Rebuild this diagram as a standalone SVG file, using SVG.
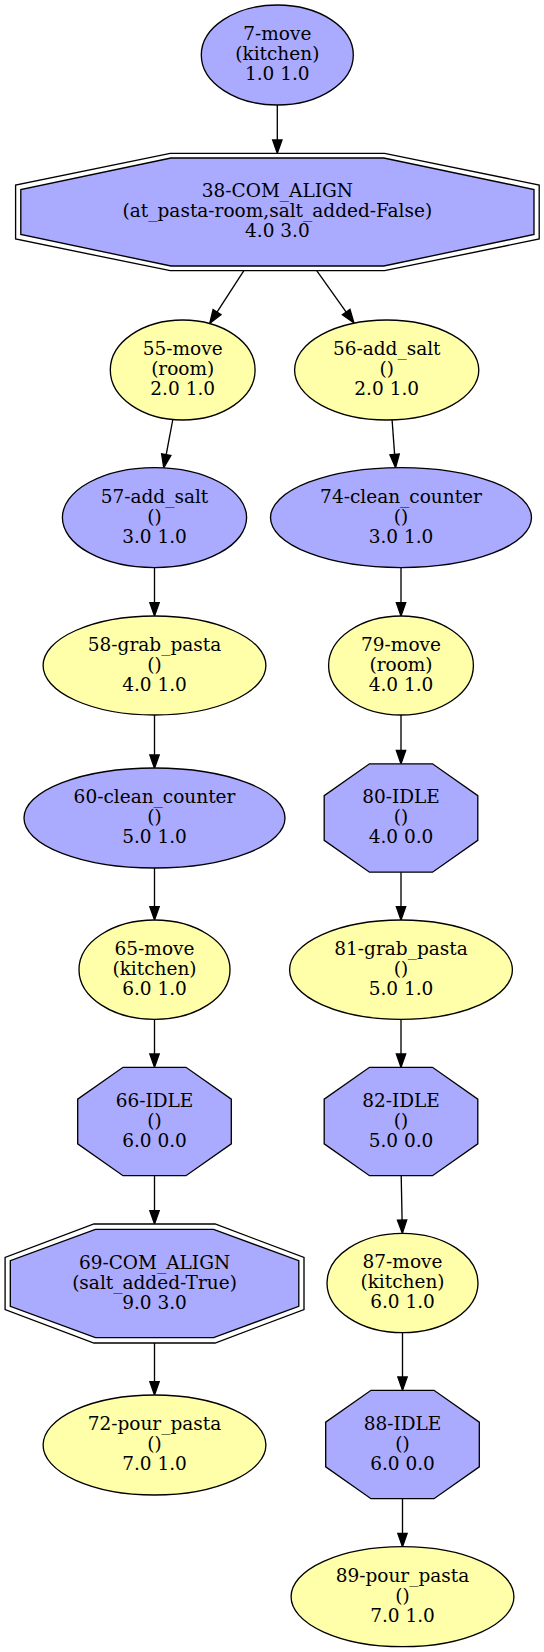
<svg xmlns="http://www.w3.org/2000/svg" width="544" height="1652" viewBox="0 0 544 1652">
<style>
.n ellipse, .n polygon { stroke: #000; stroke-width: 1.33; }
.b { fill: #aaaaff; }
.y { fill: #ffffaa; }
.o { fill: #ffffff; }
text { font-family: "DejaVu Serif", serif; font-size: 18.5px; text-anchor: middle; fill: #000; }
.e { stroke: #000; stroke-width: 1.33; fill: none; marker-end: url(#ah); }
</style>
<defs>
<marker id="ah" markerUnits="userSpaceOnUse" orient="auto" markerWidth="16" markerHeight="12" refX="0" refY="0" viewBox="-1 -6 16 12" overflow="visible">
<path d="M0,-4.67 L13.33,0 L0,4.67 z" fill="#000" stroke="#000" stroke-width="1.33"/>
</marker>
</defs>
<rect width="544" height="1652" fill="#fff"/>
<g id="edges">
<path class="e" d="M277.3,105 L277.3,140"/>
<path class="e" d="M243.9,270.7 L217,312.1"/>
<path class="e" d="M316.7,270.7 L346.2,312.1"/>
<path class="e" d="M172.8,419.5 L166.2,454.7"/>
<path class="e" d="M392.1,420 L394.6,454.4"/>
<path class="e" d="M154.5,567.5 L154.5,602.7"/>
<path class="e" d="M401,567.5 L401,602.7"/>
<path class="e" d="M154.5,715 L154.5,755"/>
<path class="e" d="M401,715 L401,750.5"/>
<path class="e" d="M154.5,868 L154.5,906.7"/>
<path class="e" d="M401,872.2 L401,906.7"/>
<path class="e" d="M154.5,1019.5 L154.5,1054"/>
<path class="e" d="M401,1019.5 L401,1054"/>
<path class="e" d="M154.5,1175.7 L154.5,1210.7"/>
<path class="e" d="M401.2,1175.7 L402.1,1220"/>
<path class="e" d="M154.5,1343 L154.5,1381.7"/>
<path class="e" d="M402.5,1332.7 L402.5,1377"/>
<path class="e" d="M402.5,1498.7 L402.5,1533.4"/>
</g>
<g id="n7" class="n">
<ellipse class="b" cx="277.3" cy="55" rx="76" ry="50"/>
<text x="277.3" y="40.3">7-move</text><text x="277.3" y="60.3">(kitchen)</text><text x="277.3" y="80.3">1.0 1.0</text>
</g>
<g id="n38" class="n">
<polygon class="o" points="170.2,153.3 384.6,153.3 539.2,185 539.2,239 384.6,270.7 170.2,270.7 15.6,239 15.6,185"/>
<polygon class="b" points="171,158 383.8,158 534,189.5 534,234.5 383.8,266 171,266 20.8,234.5 20.8,189.5"/>
<text x="277.4" y="197.3">38-COM_ALIGN</text><text x="277.4" y="217.3">(at_pasta-room,salt_added-False)</text><text x="277.4" y="237.3">4.0 3.0</text>
</g>
<g id="n55" class="n">
<ellipse class="y" cx="182.7" cy="370" rx="72.4" ry="50"/>
<text x="182.7" y="355.3">55-move</text><text x="182.7" y="375.3">(room)</text><text x="182.7" y="395.3">2.0 1.0</text>
</g>
<g id="n56" class="n">
<ellipse class="y" cx="386.7" cy="370" rx="92.1" ry="50"/>
<text x="386.7" y="355.3">56-add_salt</text><text x="386.7" y="375.3">()</text><text x="386.7" y="395.3">2.0 1.0</text>
</g>
<g id="n57" class="n">
<ellipse class="b" cx="154.5" cy="517.6" rx="92.1" ry="50"/>
<text x="154.5" y="502.9">57-add_salt</text><text x="154.5" y="522.9">()</text><text x="154.5" y="542.9">3.0 1.0</text>
</g>
<g id="n74" class="n">
<ellipse class="b" cx="401" cy="517.6" rx="130.5" ry="50"/>
<text x="401" y="502.9">74-clean_counter</text><text x="401" y="522.9">()</text><text x="401" y="542.9">3.0 1.0</text>
</g>
<g id="n58" class="n">
<ellipse class="y" cx="154.5" cy="665.5" rx="111.4" ry="49.5"/>
<text x="154.5" y="650.8">58-grab_pasta</text><text x="154.5" y="670.8">()</text><text x="154.5" y="690.8">4.0 1.0</text>
</g>
<g id="n79" class="n">
<ellipse class="y" cx="401" cy="665.5" rx="72.4" ry="49.5"/>
<text x="401" y="650.8">79-move</text><text x="401" y="670.8">(room)</text><text x="401" y="690.8">4.0 1.0</text>
</g>
<g id="n60" class="n">
<ellipse class="b" cx="154.5" cy="818" rx="130.5" ry="50"/>
<text x="154.5" y="803.3">60-clean_counter</text><text x="154.5" y="823.3">()</text><text x="154.5" y="843.3">5.0 1.0</text>
</g>
<g id="n80" class="n">
<polygon class="b" points="369.5,763.8 432.5,763.8 477.8,795.7 477.8,840.3 432.5,872.2 369.5,872.2 324.2,840.3 324.2,795.7"/>
<text x="401" y="803.3">80-IDLE</text><text x="401" y="823.3">()</text><text x="401" y="843.3">4.0 0.0</text>
</g>
<g id="n65" class="n">
<ellipse class="y" cx="154.5" cy="969.7" rx="75.5" ry="49.7"/>
<text x="154.5" y="955">65-move</text><text x="154.5" y="975">(kitchen)</text><text x="154.5" y="995">6.0 1.0</text>
</g>
<g id="n81" class="n">
<ellipse class="y" cx="401" cy="969.7" rx="111.4" ry="49.7"/>
<text x="401" y="955">81-grab_pasta</text><text x="401" y="975">()</text><text x="401" y="995">5.0 1.0</text>
</g>
<g id="n66" class="n">
<polygon class="b" points="123,1067.3 186,1067.3 231.3,1099.2 231.3,1143.8 186,1175.7 123,1175.7 77.7,1143.8 77.7,1099.2"/>
<text x="154.5" y="1106.8">66-IDLE</text><text x="154.5" y="1126.8">()</text><text x="154.5" y="1146.8">6.0 0.0</text>
</g>
<g id="n82" class="n">
<polygon class="b" points="369.5,1067.3 432.5,1067.3 477.8,1099.2 477.8,1143.8 432.5,1175.7 369.5,1175.7 324.2,1143.8 324.2,1099.2"/>
<text x="401" y="1106.8">82-IDLE</text><text x="401" y="1126.8">()</text><text x="401" y="1146.8">5.0 0.0</text>
</g>
<g id="n69" class="n">
<polygon class="o" points="93.9,1224 215.1,1224 304,1257.5 304,1309.5 215.1,1343 93.9,1343 5.1,1309.5 5.1,1257.5"/>
<polygon class="b" points="95.4,1229.3 213.6,1229.3 298.8,1260.7 298.8,1306.3 213.6,1337.7 95.4,1337.7 10.3,1306.3 10.3,1260.7"/>
<text x="154.5" y="1268.8">69-COM_ALIGN</text><text x="154.5" y="1288.8">(salt_added-True)</text><text x="154.5" y="1308.8">9.0 3.0</text>
</g>
<g id="n87" class="n">
<ellipse class="y" cx="402.5" cy="1283" rx="75.5" ry="49.7"/>
<text x="402.5" y="1268.3">87-move</text><text x="402.5" y="1288.3">(kitchen)</text><text x="402.5" y="1308.3">6.0 1.0</text>
</g>
<g id="n72" class="n">
<ellipse class="y" cx="154.5" cy="1445" rx="111.4" ry="50"/>
<text x="154.5" y="1430.3">72-pour_pasta</text><text x="154.5" y="1450.3">()</text><text x="154.5" y="1470.3">7.0 1.0</text>
</g>
<g id="n88" class="n">
<polygon class="b" points="371,1390.3 434,1390.3 479.3,1422.2 479.3,1466.8 434,1498.7 371,1498.7 325.7,1466.8 325.7,1422.2"/>
<text x="402.5" y="1429.8">88-IDLE</text><text x="402.5" y="1449.8">()</text><text x="402.5" y="1469.8">6.0 0.0</text>
</g>
<g id="n89" class="n">
<ellipse class="y" cx="402.5" cy="1596.7" rx="111.4" ry="50"/>
<text x="402.5" y="1582">89-pour_pasta</text><text x="402.5" y="1602">()</text><text x="402.5" y="1622">7.0 1.0</text>
</g>
</svg>
